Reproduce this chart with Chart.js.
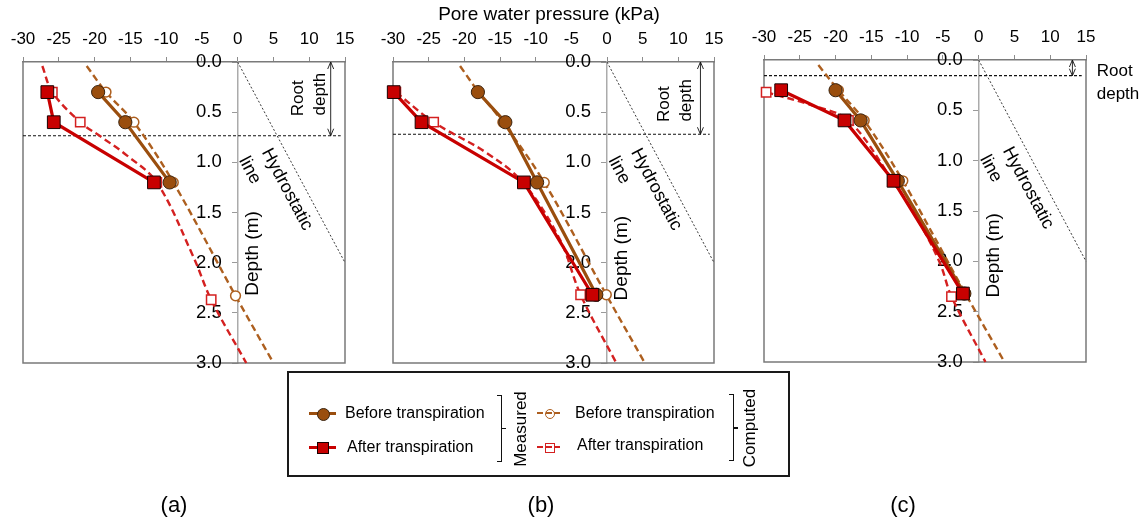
<!DOCTYPE html>
<html>
<head>
<meta charset="utf-8">
<script src="https://cdn.jsdelivr.net/npm/chart.js@4/dist/chart.umd.min.js"></script>
<style>
  html, body { margin: 0; padding: 0; background: #fff; }
  #wrap { position: relative; width: 1148px; height: 524px; overflow: hidden;
          font-family: 'Liberation Sans', Arial, sans-serif; color: #000; }
  #wrap canvas { position: absolute; left: 0; top: 0; }
  .abs { position: absolute; box-sizing: border-box; }
  .box { border: 2px solid #1a1a1a; }
  .t { font-size: 16px; line-height: 20px; white-space: nowrap; }
  .c { transform: translate(-50%, -50%); white-space: nowrap; }
  .v { transform: translate(-50%, -50%) rotate(-90deg); white-space: nowrap; font-size: 17px; line-height: 20px; }
  .tag { font-size: 22px; line-height: 26px; }
</style>
</head>
<body>
<div id="wrap">
  <canvas id="pa" width="1148" height="524"></canvas>
  <canvas id="pb" width="1148" height="524"></canvas>
  <canvas id="pc" width="1148" height="524"></canvas>

  <!-- legend -->
  <div class="abs box" style="left:287px;top:371px;width:503px;height:106px;"></div>

  <div class="abs" style="left:309px;top:412px;width:27px;height:3px;background:#9a4e0e;"></div>
  <div class="abs" style="left:316.5px;top:407.5px;width:13px;height:13px;border-radius:50%;background:#9a4e0e;border:1px solid #3a2410;"></div>
  <div class="abs t" style="left:345px;top:403px;">Before transpiration</div>

  <div class="abs" style="left:309px;top:446px;width:27px;height:3px;background:#c80000;"></div>
  <div class="abs" style="left:316.5px;top:441.5px;width:12.5px;height:12.5px;background:#c80000;border:1px solid #1a0000;"></div>
  <div class="abs t" style="left:347px;top:437px;">After transpiration</div>

  <div class="abs" style="left:501px;top:395px;width:1.4px;height:67px;background:#111;"></div>
  <div class="abs" style="left:497px;top:395px;width:5px;height:1.4px;background:#111;"></div>
  <div class="abs" style="left:497px;top:460.6px;width:5px;height:1.4px;background:#111;"></div>
  <div class="abs" style="left:502px;top:427.6px;width:4px;height:1.4px;background:#111;"></div>
  <div class="abs v" style="left:521px;top:429px;">Measured</div>

  <div class="abs" style="left:537px;top:412px;width:6px;height:2px;background:#ad5f1f;"></div>
  <div class="abs" style="left:546px;top:412px;width:6px;height:2px;background:#ad5f1f;"></div>
  <div class="abs" style="left:554px;top:412px;width:6px;height:2px;background:#ad5f1f;"></div>
  <div class="abs" style="left:544.5px;top:408.5px;width:10px;height:10px;border-radius:50%;border:1.5px solid #ad5f1f;"></div>
  <div class="abs t" style="left:575px;top:403px;">Before transpiration</div>

  <div class="abs" style="left:537px;top:446px;width:6px;height:2px;background:#d42020;"></div>
  <div class="abs" style="left:546px;top:446px;width:6px;height:2px;background:#d42020;"></div>
  <div class="abs" style="left:554px;top:446px;width:6px;height:2px;background:#d42020;"></div>
  <div class="abs" style="left:544.5px;top:442.5px;width:10px;height:10px;border:1.5px solid #d42020;"></div>
  <div class="abs t" style="left:577px;top:435px;">After transpiration</div>

  <div class="abs" style="left:733px;top:394px;width:1.4px;height:67px;background:#111;"></div>
  <div class="abs" style="left:729px;top:394px;width:5px;height:1.4px;background:#111;"></div>
  <div class="abs" style="left:729px;top:459.6px;width:5px;height:1.4px;background:#111;"></div>
  <div class="abs" style="left:734px;top:427.4px;width:4px;height:1.4px;background:#111;"></div>
  <div class="abs v" style="left:750px;top:428px;">Computed</div>

  <!-- panel tags -->
  <div class="abs c tag" style="left:174px;top:505px;">(a)</div>
  <div class="abs c tag" style="left:541px;top:505px;">(b)</div>
  <div class="abs c tag" style="left:903px;top:505px;">(c)</div>
</div>

<script>
// Axis ticks
const pressureTicks = [-30, -25, -20, -15, -10, -5, 0, 5, 10, 15];
const depthTicks = [0, 0.5, 1.0, 1.5, 2.0, 2.5, 3.0];
// Depths of the tensiometer probes (markers on the computed profiles)
const probeDepths = [0.3, 0.6, 1.2, 2.32];

// Hydrostatic reference line (kPa, m)
const hydroPressure = [0, 15];
const hydroDepth = [0, 2.0];

// (a)
const aDepthMeasured = [0.3, 0.6, 1.2];
const aMeasuredBefore = [-19.5, -15.7, -9.5];
const aMeasuredAfter = [-26.6, -25.7, -11.7];
const aDepthCompBefore = [0.04, 0.3, 0.6, 1.2, 2.33, 3.0];
const aCompBefore = [-21.1, -18.4, -14.5, -9.0, -0.3, 5.0];
const aDepthCompAfter = [0.04, 0.3, 0.6, 0.75, 0.93, 1.2, 1.94, 2.37, 3.0];
const aCompAfter = [-27.3, -25.9, -22.0, -19.0, -15.5, -11.3, -6.2, -3.7, 1.2];
const aRootDepth = 0.735;

// (b)
const bDepthMeasured = [0.3, 0.6, 1.2, 2.32];
const bMeasuredBefore = [-18.1, -14.25, -9.8, -1.5];
const bMeasuredAfter = [-29.9, -26.0, -11.65, -2.05];
const bDepthCompBefore = [0.04, 0.3, 0.6, 1.2, 2.32, 3.0];
const bCompBefore = [-20.6, -18.0, -14.6, -8.8, -0.1, 5.3];
const bDepthCompAfter = [0.3, 0.6, 0.9, 1.2, 1.77, 2.32, 3.0];
const bCompAfter = [-29.6, -24.3, -17.0, -11.8, -6.6, -3.7, 1.3];
const bRootDepth = 0.72;

// (c)
const cDepthMeasured = [0.3, 0.6, 1.2, 2.32];
const cMeasuredBefore = [-20.0, -16.5, -11.3, -2.0];
const cMeasuredAfter = [-27.6, -18.75, -11.9, -2.2];
const cDepthCompBefore = [0.05, 0.3, 0.6, 1.2, 2.32, 3.0];
const cCompBefore = [-22.4, -19.6, -16.0, -10.6, -1.85, 3.6];
const cDepthCompAfter = [0.32, 0.45, 0.6, 1.2, 1.6, 2.02, 2.35, 3.0];
const cCompAfter = [-29.7, -23.3, -18.2, -12.0, -8.4, -5.4, -3.8, 0.95];
const cRootDepth = 0.156;

const FONT = "'Liberation Sans', Arial, sans-serif";
const BROWN = '#9a4e0e', BROWN_DASH = '#ad5f1f';
const RED = '#c80000', RED_DASH = '#d42020';

const pts = (press, depth) => press.map((p, i) => ({ x: p, y: depth[i] }));
const atProbe = d => probeDepths.some(p => Math.abs(p - d) < 0.06);

function text(ctx, str, px, py, deg, size, align) {
  ctx.save();
  ctx.translate(px, py);
  ctx.rotate(deg * Math.PI / 180);
  ctx.font = size + 'px ' + FONT;
  ctx.textAlign = align || 'center';
  ctx.textBaseline = 'middle';
  ctx.fillStyle = '#000';
  ctx.fillText(str, 0, 0);
  ctx.restore();
}

// Frame, depth labels and the annotations of each panel
const panelNotes = {
  id: 'panelNotes',
  beforeDatasetsDraw(chart, args, o) {
    const { ctx, chartArea: a, scales: { x, y } } = chart;
    ctx.save();
    ctx.strokeStyle = '#7a7a7a';
    ctx.lineWidth = 1.5;
    ctx.beginPath();
    ctx.moveTo(a.left, a.top);
    ctx.lineTo(a.left, a.bottom);
    ctx.lineTo(a.right, a.bottom);
    ctx.lineTo(a.right, a.top);
    ctx.stroke();

    const x0 = x.getPixelForValue(0);
    ctx.font = '18.5px ' + FONT;
    ctx.fillStyle = '#000';
    ctx.textAlign = 'right';
    ctx.textBaseline = 'middle';
    y.ticks.forEach(t => ctx.fillText(t.value.toFixed(1), x0 - 16, y.getPixelForValue(t.value)));

    if (o.title) text(ctx, o.title, o.titleX, o.titleY, 0, 19);

    text(ctx, 'Depth (m)', x0 + o.depthDx, y.getPixelForValue(o.depthAt), -90, 19);

    o.hydroText.forEach(h => text(ctx, h.t, x.getPixelForValue(h.x), y.getPixelForValue(h.y), 62, 18));
    o.rootText.forEach(r => text(ctx, r.t, x.getPixelForValue(r.x), y.getPixelForValue(r.y), r.rot, 17, r.align));

    // double arrow spanning the root zone
    const ax = x.getPixelForValue(o.arrowX);
    const y1 = y.getPixelForValue(0), y2 = y.getPixelForValue(o.rootDepth);
    ctx.strokeStyle = '#111';
    ctx.lineWidth = 0.9;
    ctx.beginPath();
    ctx.moveTo(ax, y1); ctx.lineTo(ax, y2);
    ctx.moveTo(ax - 3, y1 + 7); ctx.lineTo(ax, y1); ctx.lineTo(ax + 3, y1 + 7);
    ctx.moveTo(ax - 3, y2 - 7); ctx.lineTo(ax, y2); ctx.lineTo(ax + 3, y2 - 7);
    ctx.stroke();
    ctx.restore();
  }
};

const panels = [
  { id: 'pa', area: { left: 23, right: 345, top: 62, bottom: 363 },
    dm: aDepthMeasured, mb: aMeasuredBefore, ma: aMeasuredAfter,
    dcb: aDepthCompBefore, cb: aCompBefore, dca: aDepthCompAfter, ca: aCompAfter, root: aRootDepth,
    notes: { depthDx: 15, depthAt: 1.908, arrowX: 13.0, title: '',
      rootText: [{ t: 'Root', x: 8.5, y: 0.362, rot: -90 }, { t: 'depth', x: 11.6, y: 0.32, rot: -90 }] } },
  { id: 'pb', area: { left: 393, right: 714, top: 62, bottom: 363 },
    dm: bDepthMeasured, mb: bMeasuredBefore, ma: bMeasuredAfter,
    dcb: bDepthCompBefore, cb: bCompBefore, dca: bDepthCompAfter, ca: bCompAfter, root: bRootDepth,
    notes: { depthDx: 14.5, depthAt: 1.955, arrowX: 13.1,
      title: 'Pore water pressure (kPa)', titleX: 549, titleY: 15,
      rootText: [{ t: 'Root', x: 8.05, y: 0.42, rot: -90 }, { t: 'depth', x: 11.1, y: 0.382, rot: -90 }] } },
  { id: 'pc', area: { left: 764, right: 1086, top: 60, bottom: 362 },
    dm: cDepthMeasured, mb: cMeasuredBefore, ma: cMeasuredAfter,
    dcb: cDepthCompBefore, cb: cCompBefore, dca: cDepthCompAfter, ca: cCompAfter, root: cRootDepth,
    notes: { depthDx: 15, depthAt: 1.94, arrowX: 13.1, title: '',
      rootText: [{ t: 'Root', x: 16.5, y: 0.113, rot: 0, align: 'left' }, { t: 'depth', x: 16.5, y: 0.345, rot: 0, align: 'left' }] } }
];

panels.forEach(p => {
  const W = 1148, H = 524;
  const datasets = [
    { label: 'After transpiration (measured)', data: pts(p.ma, p.dm), order: 0,
      showLine: true, borderColor: RED, borderWidth: 3.2, tension: 0,
      pointStyle: 'rect', pointRadius: 9, pointBackgroundColor: RED,
      pointBorderColor: '#1a0000', pointBorderWidth: 1 },
    { label: 'Before transpiration (measured)', data: pts(p.mb, p.dm), order: 1,
      showLine: true, borderColor: BROWN, borderWidth: 3.2, tension: 0,
      pointStyle: 'circle', pointRadius: 6.6, pointBackgroundColor: BROWN,
      pointBorderColor: '#3a2410', pointBorderWidth: 1 },
    { label: 'After transpiration (computed)', data: pts(p.ca, p.dca), order: 2,
      showLine: true, borderColor: RED_DASH, borderWidth: 2.4, borderDash: [7, 4], tension: 0.35,
      pointStyle: 'rect', pointRadius: c => (c.raw && atProbe(c.raw.y)) ? 6.6 : 0,
      pointBackgroundColor: '#fff', pointBorderColor: RED_DASH, pointBorderWidth: 1.5 },
    { label: 'Before transpiration (computed)', data: pts(p.cb, p.dcb), order: 3,
      showLine: true, borderColor: BROWN_DASH, borderWidth: 2.4, borderDash: [7, 4], tension: 0.35,
      pointStyle: 'circle', pointRadius: c => (c.raw && atProbe(c.raw.y)) ? 4.9 : 0,
      pointBackgroundColor: '#fff', pointBorderColor: BROWN_DASH, pointBorderWidth: 1.5 },
    { label: 'Hydrostatic line', data: pts(hydroPressure, hydroDepth), order: 5,
      showLine: true, borderColor: '#222', borderWidth: 0.9, borderDash: [2, 2], pointRadius: 0 },
    { label: 'Root depth', data: pts([-30, 14.4], [p.root, p.root]), order: 5,
      showLine: true, borderColor: '#111', borderWidth: 1.2, borderDash: [3, 2], pointRadius: 0 }
  ];

  new Chart(document.getElementById(p.id), {
    type: 'scatter',
    data: { datasets },
    plugins: [panelNotes],
    options: {
      responsive: false,
      devicePixelRatio: 1,
      animation: false,
      events: [],
      clip: false,
      layout: { padding: { left: p.area.left, right: W - p.area.right, top: 0, bottom: H - p.area.bottom } },
      plugins: {
        legend: { display: false },
        tooltip: { enabled: false },
        panelNotes: Object.assign({
          rootDepth: p.root,
          hydroText: [{ t: 'Hydrostatic', x: 6.9, y: 1.27 }, { t: 'line', x: 1.7, y: 1.08 }]
        }, p.notes)
      },
      scales: {
        x: {
          type: 'linear', position: 'top', min: -30, max: 15,
          afterBuildTicks: s => { s.ticks = pressureTicks.map(v => ({ value: v })); },
          afterFit: s => { s.height = p.area.top; },
          grid: { drawOnChartArea: false, drawTicks: true, tickLength: 5, color: '#8c8c8c', lineWidth: 1 },
          border: { display: true, color: '#7a7a7a', width: 1.5 },
          ticks: { color: '#000', font: { family: FONT, size: 17 }, padding: 7, maxRotation: 0, autoSkip: false }
        },
        y: {
          type: 'linear', position: { x: 0 }, reverse: true, min: 0, max: 3,
          afterBuildTicks: s => { s.ticks = depthTicks.map(v => ({ value: v })); },
          grid: { drawOnChartArea: false, drawTicks: true, tickLength: 5, color: '#9a9a9a', lineWidth: 1 },
          border: { display: true, color: '#ababab', width: 1.5 },
          ticks: { display: false }
        }
      }
    }
  });
});
</script>
</body>
</html>
